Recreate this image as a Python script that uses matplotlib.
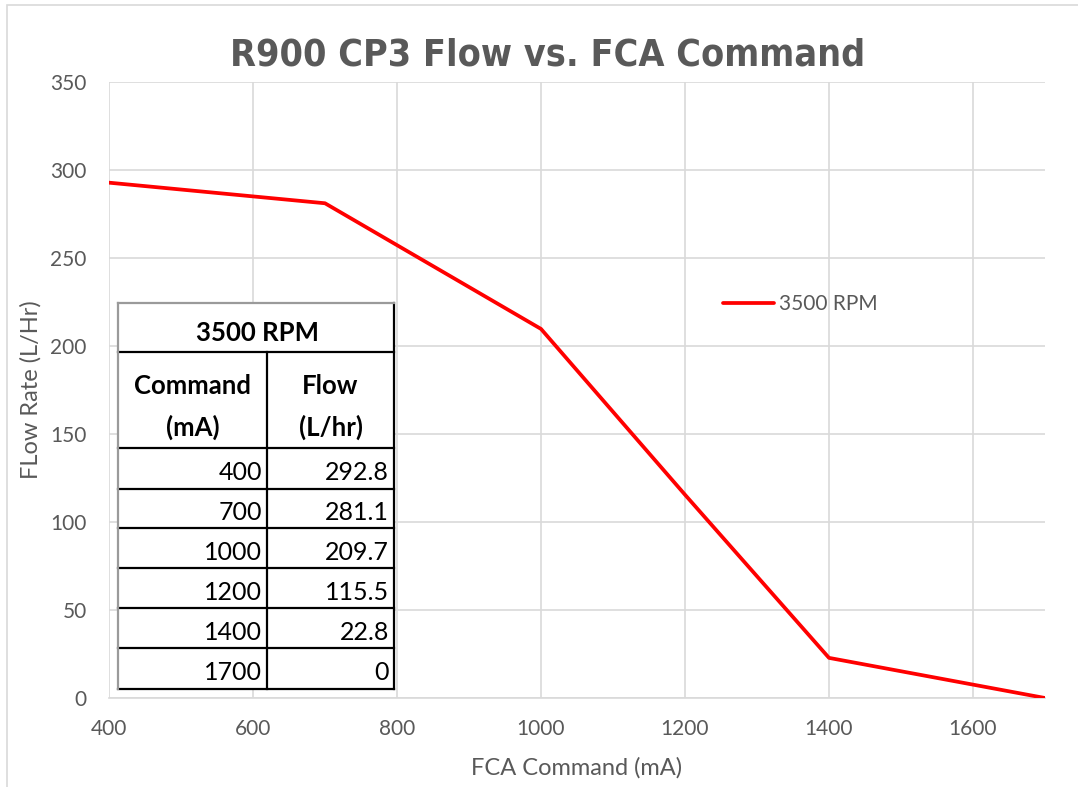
import matplotlib
matplotlib.use("Agg")
import matplotlib.pyplot as plt
from matplotlib.patches import Rectangle

command_ma = [400, 700, 1000, 1200, 1400, 1700]
flow_lhr = [292.8, 281.1, 209.7, 115.5, 22.8, 0]
flow_labels = ["292.8", "281.1", "209.7", "115.5", "22.8", "0"]
x_ticks = [400, 600, 800, 1000, 1200, 1400, 1600]
y_ticks = [0, 50, 100, 150, 200, 250, 300, 350]
series_name = "3500 RPM"

W, H = 1078, 787
GRAY = "#595959"
GRID = "#d9d9d9"
plt.rcParams["font.family"] = ["Lato", "DejaVu Sans"]

fig = plt.figure(figsize=(W / 100, H / 100), dpi=100)

def fx(x):
    return x / W

def fy(y):
    return 1 - y / H

# chart area frame (cropped on right/bottom in the original)
fig.patches.append(Rectangle((fx(7), fy(800)), fx(1100) - fx(7), fy(5) - fy(800),
                             transform=fig.transFigure, fill=False,
                             edgecolor=GRID, lw=1.2, clip_on=False))

ax = fig.add_axes([fx(109), fy(698), fx(1045) - fx(109), fy(82) - fy(698)])
ax.plot(command_ma, flow_lhr, color="#ff0000", lw=2.7, solid_capstyle="round",
        solid_joinstyle="round", label=series_name, zorder=3)
ax.set_xlim(400, 1700)
ax.set_ylim(0, 350)
ax.set_xticks(x_ticks)
ax.set_yticks(y_ticks)
ax.grid(True, color=GRID, lw=1.2)
ax.set_axisbelow(True)
for s in ["top", "right", "left"]:
    ax.spines[s].set_visible(False)
ax.spines["bottom"].set_color(GRID)
ax.spines["bottom"].set_linewidth(1.2)
ax.tick_params(length=0, labelsize=15, labelcolor=GRAY)
ax.tick_params(axis="y", pad=16)
ax.tick_params(axis="x", pad=15)

fig.text(fx(577), fy(768), "FCA Command (mA)", ha="center", va="center",
         fontsize=17, color=GRAY)
fig.text(fx(31), fy(390), "FLow Rate (L/Hr)", ha="center", va="center",
         rotation=90, fontsize=17, color=GRAY)
fig.text(fx(548), fy(55), "R900 CP3 Flow vs. FCA Command", ha="center", va="center",
         fontsize=27, fontweight="bold", fontstretch="condensed", color=GRAY,
         family=["DejaVu Sans"])

ax.legend(loc="center left", bbox_to_anchor=(fx(713), fy(304)),
          bbox_transform=fig.transFigure, frameon=False, borderpad=0,
          handlelength=2.45, handletextpad=0.2, fontsize=15, labelcolor=GRAY)

# embedded data table
tx0, tx1, tcol = 118, 394, 267
rows = [303, 352, 448, 489, 528, 568, 608, 648, 689]
tab = fig.add_axes([fx(tx0), fy(rows[-1]), fx(tx1) - fx(tx0), fy(rows[0]) - fy(rows[-1])])
tab.set_xlim(tx0, tx1)
tab.set_ylim(rows[-1], rows[0])
tab.axis("off")
tab.add_patch(Rectangle((tx0, rows[0]), tx1 - tx0, rows[-1] - rows[0],
                        facecolor="white", edgecolor="none", zorder=0))
lw = 1.6
for y in rows[1:-1]:
    tab.plot([tx0, tx1], [y, y], color="black", lw=lw, clip_on=False)
tab.plot([tx0, tx1], [rows[-1], rows[-1]], color="black", lw=lw, clip_on=False)
tab.plot([tx1, tx1], [rows[0], rows[-1]], color="black", lw=lw, clip_on=False)
tab.plot([tcol, tcol], [rows[1], rows[-1]], color="black", lw=lw, clip_on=False)
tab.plot([tx0, tx1], [rows[0], rows[0]], color="#9a9a9a", lw=lw, clip_on=False)
tab.plot([tx0, tx0], [rows[0], rows[-1]], color="#9a9a9a", lw=lw, clip_on=False)

tfs = 18
hfs = 18.5
tab.text((tx0 + tx1) / 2 + 1, (rows[0] + rows[1]) / 2 + 6, series_name, ha="center",
         va="center", fontsize=hfs, fontweight="bold", color="black")
tab.text((tx0 + tcol) / 2, (rows[1] + rows[2]) / 2 + 7, "Command\n(mA)", ha="center",
         va="center", fontsize=hfs, fontweight="bold", color="black", linespacing=1.75)
tab.text((tcol + tx1) / 2, (rows[1] + rows[2]) / 2 + 7, "Flow\n(L/hr)", ha="center",
         va="center", fontsize=hfs, fontweight="bold", color="black", linespacing=1.75)
for i, (c, f) in enumerate(zip(command_ma, flow_labels)):
    yc = (rows[i + 2] + rows[i + 3]) / 2 + 4
    tab.text(tcol - 5, yc, str(c), ha="right", va="center", fontsize=tfs, color="black")
    tab.text(tx1 - 5, yc, f, ha="right", va="center", fontsize=tfs, color="black")

fig.savefig("out.png", dpi=100)
